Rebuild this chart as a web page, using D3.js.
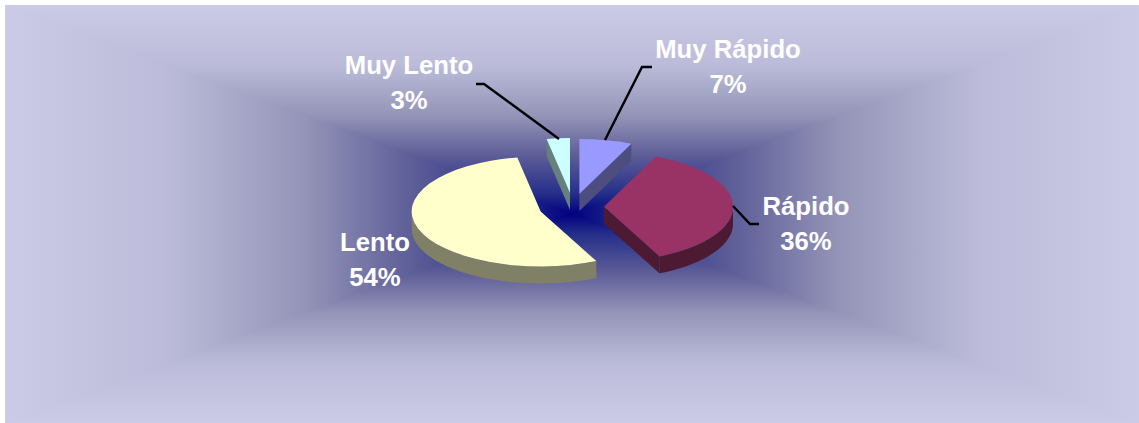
<!DOCTYPE html>
<html>
<head>
<meta charset="utf-8">
<script src="https://cdn.jsdelivr.net/npm/d3@7"></script>
<style>
  html, body { margin: 0; padding: 0; background: #fff; overflow: hidden; }
  svg { display: block; }
  text { font-family: "Liberation Sans", Arial, sans-serif; font-weight: bold; font-size: 25.7px; fill: #fff; text-anchor: middle; }
</style>
</head>
<body>
<svg id="chart" width="1139" height="423"></svg>
<script>
const categories = ['Muy Rápido', 'Rápido', 'Lento', 'Muy Lento'];
// shares, the labels show them rounded
const percents = [6.6, 36.3, 54.2, 2.9];
const topColors = ['#9999ff', '#993366', '#ffffcc', '#ccffff'];

// how far each slice is pulled out of the pie
const explode = [31, 31, 34, 33];
// label anchors (x, first baseline) and leader lines, same order as categories
const labelAnchors = [[728, 58], [806, 215], [375, 251], [409, 74]];
const leaders = [
  [[605, 140], [642, 67], [652, 67]],
  [[733, 206], [750, 224], [759, 224]],
  null,
  [[476, 84], [484, 84], [559, 139]],
];

const width = 1139;
const height = 423;
const plot = { x0: 5, y0: 5, x1: width, y1: height };
const center = { x: 573, y: 207 };
const rx = 129;
const ry = 55;
const depth = 17;

const svg = d3.select('#chart');
const defs = svg.append('defs');

// box gradient: four triangles meeting at the middle of the plot area
const bgMid = { x: (plot.x0 + plot.x1) / 2, y: (plot.y0 + plot.y1) / 2 };
const bgStops = [
  [0, '#000080'], [0.1, '#26308a'], [0.27, '#5a5a96'],
  [0.47, '#9494b8'], [0.72, '#bcbcda'], [1, '#cbcbe7'],
];
const bgSides = [
  { id: 'bgTop', end: [bgMid.x, plot.y0], pts: [[plot.x0, plot.y0], [plot.x1, plot.y0]] },
  { id: 'bgRight', end: [plot.x1, bgMid.y], pts: [[plot.x1, plot.y0], [plot.x1, plot.y1]] },
  { id: 'bgBottom', end: [bgMid.x, plot.y1], pts: [[plot.x1, plot.y1], [plot.x0, plot.y1]] },
  { id: 'bgLeft', end: [plot.x0, bgMid.y], pts: [[plot.x0, plot.y1], [plot.x0, plot.y0]] },
];
bgSides.forEach((side) => {
  const grad = defs.append('linearGradient')
    .attr('id', side.id)
    .attr('gradientUnits', 'userSpaceOnUse')
    .attr('x1', bgMid.x)
    .attr('y1', bgMid.y)
    .attr('x2', side.end[0])
    .attr('y2', side.end[1]);
  grad.selectAll('stop')
    .data(bgStops)
    .join('stop')
    .attr('offset', (d) => d[0])
    .attr('stop-color', (d) => d[1]);
  svg.append('polygon')
    .attr('points', [[bgMid.x, bgMid.y], ...side.pts].join(' '))
    .attr('fill', `url(#${side.id})`)
    .attr('shape-rendering', 'crispEdges');
});

const slices = d3.pie().sort(null).value((d) => d)(percents)
  .map((s, i) => {
    const mid = (s.startAngle + s.endAngle) / 2;
    return {
      ...s,
      i,
      color: topColors[i],
      ox: center.x + explode[i] * Math.sin(mid),
      oy: center.y - explode[i] * Math.cos(mid) * (ry / rx),
    };
  });

const darken = (c) => {
  const r = d3.rgb(c);
  return d3.rgb(r.r / 2, r.g / 2, r.b / 2).formatHex();
};
const rim = (s, a, dy = 0) => [s.ox + rx * Math.sin(a), s.oy - ry * Math.cos(a) + dy];
const line = d3.line();

// curved outer wall, only the part that faces the viewer
function rimWall(s) {
  const a0 = Math.max(s.startAngle, Math.PI / 2);
  const a1 = Math.min(s.endAngle, Math.PI * 1.5);
  if (a1 <= a0) return null;
  const angles = d3.range(a0, a1, 0.02).concat(a1);
  const upper = angles.map((a) => rim(s, a));
  const lower = angles.map((a) => rim(s, a, depth)).reverse();
  return `${line(upper.concat(lower))}Z`;
}

// flat cut face along one radius
function cutWall(s, a) {
  const [x, y] = rim(s, a);
  return `${line([[s.ox, s.oy], [x, y], [x, y + depth], [s.ox, s.oy + depth]])}Z`;
}

const pieG = svg.append('g');
const arc = d3.arc().innerRadius(0).outerRadius(rx);

const sliceG = pieG.selectAll('g.slice')
  .data(slices)
  .join('g')
  .attr('class', 'slice');

sliceG.each(function (s) {
  const g = d3.select(this);
  const wall = darken(s.color);
  // a cut face shows only when its outward normal points down the screen
  if (Math.cos(s.startAngle - Math.PI / 2) < -1e-6) {
    g.append('path').attr('d', cutWall(s, s.startAngle)).attr('fill', wall);
  }
  if (Math.cos(s.endAngle + Math.PI / 2) < -1e-6) {
    g.append('path').attr('d', cutWall(s, s.endAngle)).attr('fill', wall);
  }
  const curved = rimWall(s);
  if (curved) g.append('path').attr('d', curved).attr('fill', wall);
  g.append('path')
    .attr('d', arc(s))
    .attr('transform', `translate(${s.ox},${s.oy}) scale(1,${ry / rx})`)
    .attr('fill', s.color);
});

svg.append('g').selectAll('path')
  .data(leaders.filter(Boolean))
  .join('path')
  .attr('d', (d) => line(d))
  .attr('fill', 'none')
  .attr('stroke', '#000')
  .attr('stroke-width', 2.4);

const labels = svg.append('g').selectAll('text')
  .data(categories)
  .join('text')
  .attr('x', (d, i) => labelAnchors[i][0])
  .attr('y', (d, i) => labelAnchors[i][1]);
labels.append('tspan').text((d) => d);
labels.append('tspan')
  .attr('x', (d, i) => labelAnchors[i][0])
  .attr('dy', 35)
  .text((d, i) => `${Math.round(percents[i])}%`);
</script>
</body>
</html>
